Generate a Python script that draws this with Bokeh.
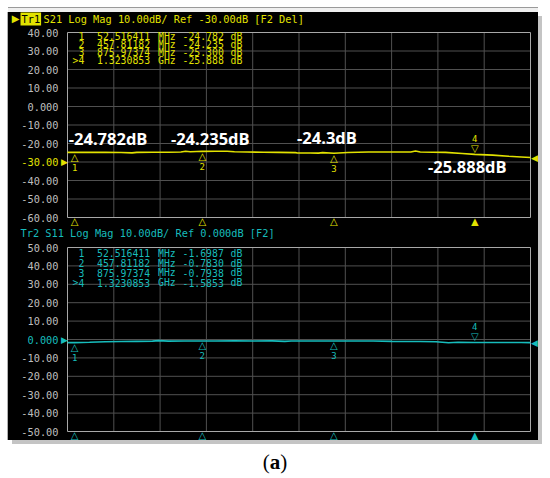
from bokeh.plotting import figure
from bokeh.models import FixedTicker, Label, LabelSet, ColumnDataSource, Div
from bokeh.layouts import column
from bokeh.embed import file_html
from bokeh.resources import INLINE
from bokeh.core.properties import value

# ---------------- data ----------------
freq_start_mhz = 30.0
freq_stop_mhz = 1500.0

s21_freq_mhz = [30, 52.5, 100, 150, 200, 235, 250, 300, 350, 390,
                405, 420, 440, 457.8, 500, 537, 560, 600, 652, 700,
                754, 760, 800, 827, 840, 876, 920, 985, 1050, 1120,
                1135, 1150, 1230, 1283, 1323, 1380, 1430, 1470, 1500]
s21_db = [-24.80, -24.78, -24.80, -24.80, -24.85, -25.05, -24.80, -24.75, -24.70, -24.60,
          -24.20, -24.45, -24.30, -24.24, -24.20, -24.20, -24.50, -24.60, -24.75, -24.80,
          -24.95, -25.10, -25.15, -25.20, -24.95, -25.30, -24.90, -24.60, -24.60, -24.60,
          -24.10, -24.60, -24.80, -25.40, -25.89, -26.30, -26.90, -27.30, -27.60]

s11_freq_mhz = [30, 52.5, 100, 150, 200, 250, 300, 320, 350, 400,
                457.8, 500, 560, 620, 680, 720, 740, 800, 876, 950,
                1000, 1060, 1100, 1150, 1200, 1240, 1270, 1323, 1400, 1470,
                1500]
s11_db = [-1.70, -1.70, -1.50, -1.20, -1.10, -1.00, -0.90, -0.60, -0.90, -0.80,
          -0.78, -0.80, -0.70, -0.80, -0.75, -1.00, -0.80, -0.80, -0.79, -0.80,
          -0.80, -1.00, -1.10, -1.10, -1.20, -1.80, -1.50, -1.59, -1.60, -1.60,
          -1.70]

marker_ids = ["1", "2", "3", "4"]
marker_freq_mhz = [52.516411, 457.81182, 875.97374, 1323.0853]
marker_s21_db = [-24.782, -24.235, -25.300, -25.888]
marker_s11_db = [-1.6987, -0.7830, -0.7938, -1.5853]
active_marker = "4"

s21_callouts = ["-24.782dB", "-24.235dB", "-24.3dB", "-25.888dB"]

s21_yticks = list(range(-60, 41, 10))
s11_yticks = list(range(-50, 51, 10))
s21_ref_db = -30
s11_ref_db = 0

s21_trace_tag = "Tr1"
s21_title = "S21 Log Mag 10.00dB/ Ref -30.00dB [F2 Del]"
s11_title = "Tr2 S11 Log Mag 10.00dB/ Ref 0.000dB [F2]"
caption = "a"

# ---------------- styles / layout ----------------
YEL = "#e2e200"
CYN = "#17bcbc"
GRID = "#505050"
FRAME = "#a8a8a8"
TICK = "#bebebe"
MONO = "DejaVu Sans Mono"
SYM = "DejaVu Sans"

FIG_W = 530          # screen width in px
PAD_L, PAD_R = 59, 8  # px between screen edge and graticule


def fmt_tick(t):
    return "0.000" if t == 0 else f"{t:.2f}"


def fmt_freq(f):
    return (f"{f:.8g}", "MHz") if f < 1000 else (f"{f / 1000:.8g}", "GHz")


def padded(lo, hi, pad_lo, pad_hi, length):
    per_px = (hi - lo) / (length - pad_lo - pad_hi)
    return lo - pad_lo * per_px, hi + pad_hi * per_px


def build_panel(color, y_lo, y_hi, yticks, ref_db, freq, db, mk_db, decimals,
                height, pad_top, pad_bottom, row_dy):
    p = figure(width=FIG_W, height=height, title=None,
               x_range=padded(freq_start_mhz, freq_stop_mhz, PAD_L, PAD_R, FIG_W),
               y_range=padded(y_lo, y_hi, pad_bottom, pad_top, height),
               x_axis_location=None, y_axis_location="left",
               output_backend="svg", toolbar_location=None, min_border=0)
    p.background_fill_color = "black"
    p.border_fill_color = "black"
    p.outline_line_color = None
    p.xgrid.visible = False
    p.ygrid.visible = False

    ax = p.yaxis[0]
    ax.fixed_location = freq_start_mhz
    ax.ticker = FixedTicker(ticks=yticks)
    ax.axis_line_color = None
    ax.major_tick_line_color = None
    ax.minor_tick_line_color = None
    ax.major_tick_out = 0
    ax.major_tick_in = 0
    ax.major_label_standoff = 9
    ax.major_label_text_font = MONO
    ax.major_label_text_font_size = "10.3px"
    ax.major_label_text_color = TICK
    ax.major_label_overrides = {t: ("" if t == ref_db else fmt_tick(t)) for t in yticks}

    # graticule: 10 x 10 divisions
    span = freq_stop_mhz - freq_start_mhz
    xdiv = [freq_start_mhz + i * span / 10 for i in range(1, 10)]
    ydiv = [t for t in yticks if y_lo < t < y_hi]
    p.segment(x0=xdiv, x1=xdiv, y0=[y_lo] * len(xdiv), y1=[y_hi] * len(xdiv),
              line_color=GRID, line_width=1)
    p.segment(x0=[freq_start_mhz] * len(ydiv), x1=[freq_stop_mhz] * len(ydiv),
              y0=ydiv, y1=ydiv, line_color=GRID, line_width=1)
    p.quad(left=[freq_start_mhz], right=[freq_stop_mhz], bottom=[y_lo], top=[y_hi],
           fill_color=None, line_color=FRAME, line_width=1)

    p.line(freq, db, line_color=color, line_width=1.6)

    # markers on the trace
    above = [m == active_marker for m in marker_ids]
    msrc = ColumnDataSource(dict(
        x=marker_freq_mhz, y=mk_db, num=marker_ids,
        tri=["▽" if a else "△" for a in above],
        tri_dy=[5.5 if a else -5 for a in above],
        num_dy=[16 if a else -15 for a in above],
        edge=["▲" if a else "△" for a in above],
        edge_y=[y_lo] * len(marker_ids),
    ))
    p.add_layout(LabelSet(x="x", y="y", text="tri", y_offset="tri_dy", source=msrc,
                          text_color=color, text_font=value(SYM), text_font_size="10px",
                          text_align="center", text_baseline="middle"))
    p.add_layout(LabelSet(x="x", y="y", text="num", y_offset="num_dy", source=msrc,
                          text_color=color, text_font=value(MONO), text_font_size="9px",
                          text_align="center", text_baseline="middle"))
    p.add_layout(LabelSet(x="x", y="edge_y", text="edge", y_offset=-4, source=msrc,
                          text_color=color, text_font=value(SYM), text_font_size="10px",
                          text_align="center", text_baseline="middle"))

    # reference level marker and label
    p.add_layout(Label(x=freq_start_mhz, y=ref_db, text="▶", x_offset=-3,
                       text_color=color, text_font=SYM, text_font_size="9px",
                       text_align="center", text_baseline="middle"))
    p.add_layout(Label(x=freq_start_mhz, y=ref_db, text=fmt_tick(ref_db), x_offset=-9,
                       text_color=color, text_font=MONO, text_font_size="10.3px",
                       text_align="right", text_baseline="middle"))
    # trace end marker
    p.add_layout(Label(x=freq_stop_mhz, y=db[-1], text="◀", x_offset=4,
                       text_color=color, text_font=SYM, text_font_size="9px",
                       text_align="center", text_baseline="middle"))

    # marker table
    fstrs = [fmt_freq(f) for f in marker_freq_mhz]
    tsrc = ColumnDataSource(dict(
        x=[freq_start_mhz] * len(marker_ids), y=[y_hi] * len(marker_ids), dy=row_dy,
        act=[">" if a else "" for a in above], num=marker_ids,
        freq=[s for s, _ in fstrs], unit=[u for _, u in fstrs],
        val=[f"{v:.{decimals}f}" for v in mk_db], db=["dB"] * len(marker_ids),
    ))
    for col, dx in (("act", 5), ("num", 11), ("freq", 29.5), ("unit", 90.5),
                    ("val", 115), ("db", 163)):
        p.add_layout(LabelSet(x="x", y="y", text=col, x_offset=dx, y_offset="dy",
                              source=tsrc, text_color=color, text_font=value(MONO),
                              text_font_size="9.8px", text_align="left",
                              text_baseline="middle"))
    return p


up = build_panel(YEL, -60, 40, s21_yticks, s21_ref_db, s21_freq_mhz, s21_db,
                 marker_s21_db, 3, 214, 20, 9, [-3.7, -11.5, -19.7, -27.9])
low = build_panel(CYN, -50, 50, s11_yticks, s11_ref_db, s11_freq_mhz, s11_db,
                  marker_s11_db, 4, 214, 21, 9, [-5.7, -15.7, -25.3, -35.0])

# channel titles
up.add_layout(Label(x=freq_start_mhz, y=40, text="▶", x_offset=-52, y_offset=14,
                    text_color=YEL, text_font=SYM, text_font_size="10px",
                    text_align="center", text_baseline="middle"))
up.add_layout(Label(x=freq_start_mhz, y=40, text=s21_trace_tag, x_offset=-47, y_offset=14,
                    text_color="black", background_fill_color=YEL, padding=1,
                    text_font=MONO, text_font_size="10.3px",
                    text_align="left", text_baseline="middle"))
up.add_layout(Label(x=freq_start_mhz, y=40, text=s21_title, x_offset=-24, y_offset=14,
                    text_color=YEL, text_font=MONO, text_font_size="10.3px",
                    text_align="left", text_baseline="middle"))
low.add_layout(Label(x=freq_start_mhz, y=50, text=s11_title, x_offset=-47, y_offset=15,
                     text_color=CYN, text_font=MONO, text_font_size="10.3px",
                     text_align="left", text_baseline="middle"))

# white call-outs on the S21 trace
csrc = ColumnDataSource(dict(x=marker_freq_mhz, y=marker_s21_db, t=s21_callouts,
                             dx=[33.5, 8, -7, -7.5], dy=[14, 13, 16, -12]))
up.add_layout(LabelSet(x="x", y="y", text="t", x_offset="dx", y_offset="dy", source=csrc,
                       text_color="white", text_font=value("Open Sans"),
                       text_font_style="bold", text_font_size="16.5px",
                       text_align="center", text_baseline="middle"))

screen = column(up, low, spacing=0, margin=(12, 0, 0, 8),
                styles={"background-color": "black",
                        "box-shadow": "0 -4px 0 0 #efefef, 0 -5px 0 0 #9a9a9a, "
                                      "-1px 0 0 0 #b0b0b0, 4px 4px 0 0 #c4c4c4"})
cap = Div(text=f'<div style="width:550px;text-align:center;font-family:\'Liberation Serif\';'
               f'font-size:21px;padding-top:7px;color:black">(<b>{caption}</b>)</div>',
          width=550, height=36, margin=0)
layout = column(screen, cap, spacing=0)

open("out.html", "w").write(file_html(layout, INLINE))
